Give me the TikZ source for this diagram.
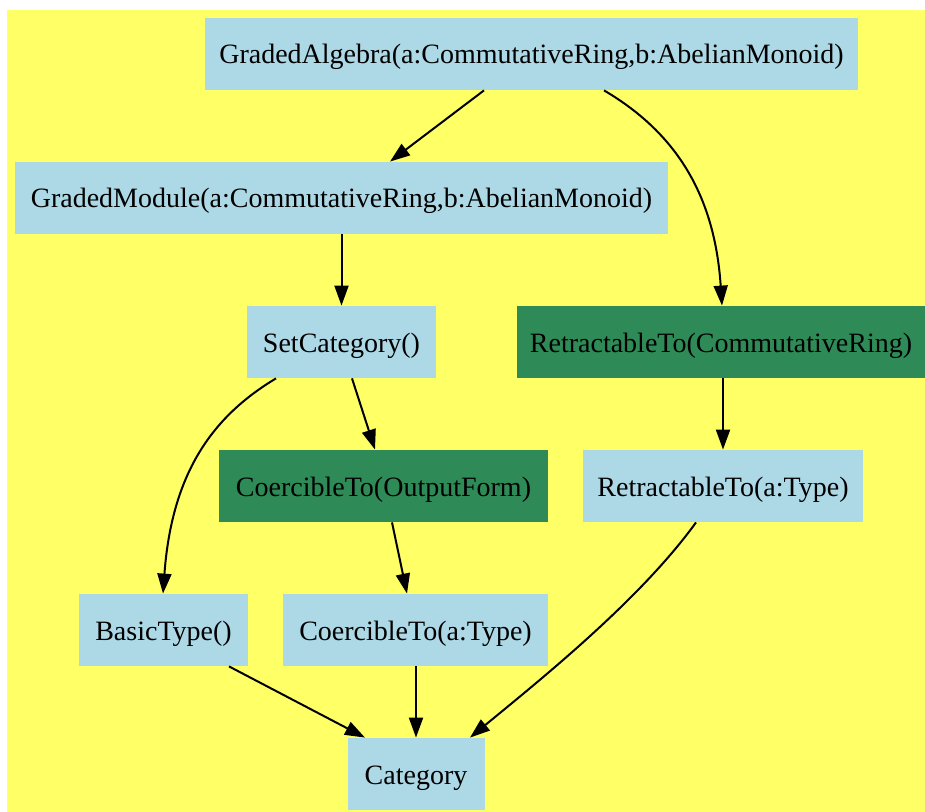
\documentclass[tikz,border=0pt]{standalone}
\usepackage{fontspec}
\setmainfont{Liberation Serif}
\usetikzlibrary{arrows.meta,calc}
\definecolor{bgyellow}{HTML}{FFFF66}
\definecolor{boxblue}{HTML}{ADD8E6}
\definecolor{boxgreen}{HTML}{2E8B57}
\begin{document}
\begin{tikzpicture}[x=0.5pt,y=-0.5pt,
  box/.style={fill=boxblue,draw=none,inner sep=0pt,minimum height=36pt,text height=14pt,text depth=4pt,font=\fontsize{14pt}{16pt}\selectfont,text=black},
  gbox/.style={box,fill=boxgreen},
  edge/.style={line width=1pt,-{Triangle[length=10pt,width=7pt]}}]
\useasboundingbox (0,0) rectangle (925,812);
\fill[bgyellow] (7,10) rectangle (925,812);
\node[box,minimum width=326.5pt] (ga) at (531.5,54) {GradedAlgebra(a:CommutativeRing,b:AbelianMonoid)};
\node[box,minimum width=326.5pt] (gm) at (341.5,198) {GradedModule(a:CommutativeRing,b:AbelianMonoid)};
\node[box,minimum width=94.5pt] (sc) at (341.5,342) {SetCategory()};
\node[gbox,minimum width=204pt] (rcr) at (721,342) {RetractableTo(CommutativeRing)};
\node[gbox,minimum width=164.5pt] (cto) at (383.5,486) {CoercibleTo(OutputForm)};
\node[box,minimum width=140pt] (rtt) at (723,486) {RetractableTo(a:Type)};
\node[box,minimum width=84.5pt] (bt) at (163.5,630) {BasicType()};
\node[box,minimum width=132.5pt] (ctt) at (415.5,630) {CoercibleTo(a:Type)};
\node[box,minimum width=68.5pt] (cat) at (416,774) {Category};
\draw[edge] ($(ga.south)+(-47.5,0)$) -- ($(gm.north)+(48.5,0)$);
\draw[edge] ($(ga.south)+(72.5,0)$) .. controls (680,135) and (715,200) .. ($(rcr.north)+(1,0)$);
\draw[edge] (gm.south) -- (sc.north);
\draw[edge] ($(sc.south)+(-65.5,0)$) .. controls (215,415) and (172,470) .. ($(bt.north)+(-0.5,0)$);
\draw[edge] ($(sc.south)+(10.5,0)$) -- ($(cto.north)+(-8.5,0)$);
\draw[edge] ($(rcr.south)+(2,0)$) -- (rtt.north);
\draw[edge] ($(cto.south)+(8.5,0)$) -- ($(ctt.north)+(-8.5,0)$);
\draw[edge] ($(rtt.south)+(-27,0)$) .. controls (640,600) and (540,680) .. ($(cat.north)+(54,0)$);
\draw[edge] ($(bt.south)+(65.5,0)$) -- ($(cat.north)+(-51,0)$);
\draw[edge] ($(ctt.south)+(0.5,0)$) -- (cat.north);
\end{tikzpicture}
\end{document}
